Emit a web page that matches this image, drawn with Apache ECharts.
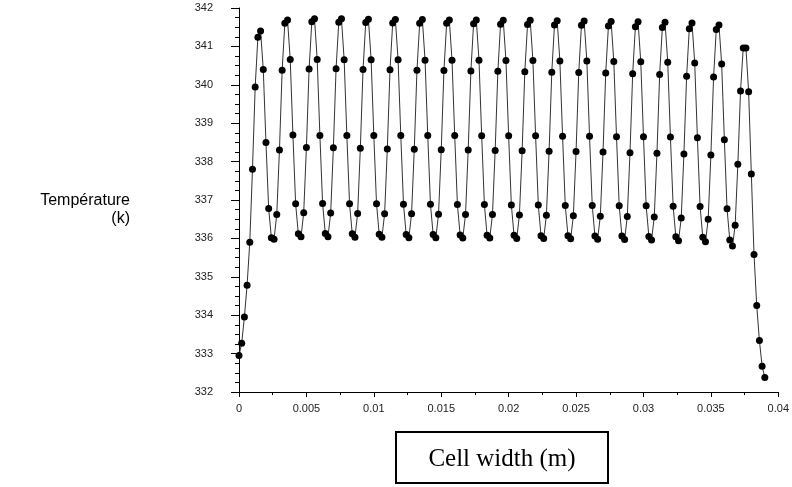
<!DOCTYPE html>
<html>
<head>
<meta charset="utf-8">
<title>Température vs Cell width</title>
<script src="https://cdn.jsdelivr.net/npm/echarts@6/dist/echarts.min.js"></script>
<style>
  html, body { margin: 0; padding: 0; background: #fff; }
  #chart { width: 792px; height: 487px; }
</style>
</head>
<body>
<div id="chart"></div>
<script>
// mesh spacing along the cell (m)
const cellStep = 0.0002

// temperature (K) at each mesh point
const tempStart = [332.95, 333.27, 333.95, 334.78, 335.90, 337.80, 339.94, 341.24, 341.40, 340.40, 338.50, 336.78]
const tempMiddle = [
  336.02, 335.98, 336.62, 338.30, 340.38, 341.60, 341.69, 340.66, 338.69, 336.90,
  336.12, 336.04, 336.67, 338.37, 340.41, 341.64, 341.72, 340.66, 338.68, 336.91,
  336.13, 336.04, 336.66, 338.36, 340.42, 341.63, 341.72, 340.65, 338.68, 336.90,
  336.12, 336.03, 336.65, 338.35, 340.40, 341.62, 341.71, 340.65, 338.68, 336.90,
  336.11, 336.03, 336.64, 338.33, 340.39, 341.61, 341.70, 340.65, 338.68, 336.89,
  336.10, 336.02, 336.64, 338.32, 340.38, 341.60, 341.70, 340.64, 338.68, 336.89,
  336.10, 336.02, 336.63, 338.31, 340.37, 341.60, 341.69, 340.64, 338.68, 336.88,
  336.09, 336.01, 336.62, 338.30, 340.36, 341.59, 341.69, 340.64, 338.67, 336.88,
  336.08, 336.01, 336.62, 338.29, 340.35, 341.58, 341.68, 340.63, 338.67, 336.87,
  336.08, 336.00, 336.61, 338.28, 340.34, 341.57, 341.68, 340.63, 338.67, 336.87,
  336.07, 336.00, 336.60, 338.27, 340.33, 341.56, 341.67, 340.62, 338.66, 336.86,
  336.07, 335.99, 336.59, 338.26, 340.32, 341.55, 341.66, 340.62, 338.66, 336.86,
  336.06, 335.98, 336.58, 338.25, 340.31, 341.53, 341.65, 340.61, 338.65, 336.85,
  336.06, 335.97, 336.57, 338.23, 340.29, 341.51, 341.64, 340.60, 338.65, 336.85,
  336.05, 335.96, 336.56, 338.22, 340.27, 341.49, 341.63, 340.59, 338.64, 336.84,
  336.04, 335.94, 336.53, 338.20, 340.22, 341.46, 341.61, 340.57, 338.62, 336.83,
  336.03, 335.91, 336.50, 338.17, 340.20, 341.44, 341.56, 340.54, 338.57, 336.77,
  335.96, 335.80, 336.34, 337.93, 339.84, 340.96, 340.96, 339.82, 337.68, 335.58
]
const tempEnd = [334.25, 333.34, 332.67, 332.38]

// axis ticks
const xTicks = [0, 0.005, 0.01, 0.015, 0.02, 0.025, 0.03, 0.035, 0.04]
const yTicks = [332, 333, 334, 335, 336, 337, 338, 339, 340, 341, 342]

const temperature = tempStart.concat(tempMiddle, tempEnd)
const points = temperature.map((t, i) => [+(i * cellStep).toFixed(4), t])

const chart = echarts.init(document.getElementById('chart'))

const tickFont = { color: '#222', fontSize: 11, fontFamily: 'Liberation Sans, Arial, sans-serif' }
const titleFont = '16px "Liberation Sans", Arial, sans-serif'

chart.setOption({
  animation: false,
  backgroundColor: '#fff',
  grid: { left: 239, right: 13, top: 8, bottom: 95, containLabel: false },
  xAxis: {
    type: 'value',
    min: xTicks[0],
    max: xTicks[xTicks.length - 1],
    interval: 0.005,
    axisLine: { lineStyle: { color: '#000', width: 1 } },
    axisTick: { show: true, length: 5, lineStyle: { color: '#000' } },
    minorTick: { show: true, splitNumber: 2, length: 3, lineStyle: { color: '#000' } },
    splitLine: { show: false },
    axisLabel: Object.assign({ margin: 11, formatter: v => String(v) }, tickFont)
  },
  yAxis: {
    type: 'value',
    min: yTicks[0],
    max: yTicks[yTicks.length - 1],
    interval: 1,
    axisLine: { show: true, lineStyle: { color: '#000', width: 1 } },
    axisTick: { show: true, length: 8, lineStyle: { color: '#000' } },
    minorTick: { show: true, splitNumber: 4, length: 4, lineStyle: { color: '#000' } },
    splitLine: { show: false },
    axisLabel: Object.assign({ margin: 26 }, tickFont)
  },
  series: [{
    type: 'line',
    data: points,
    symbol: 'circle',
    symbolSize: 7,
    showAllSymbol: true,
    itemStyle: { color: '#000' },
    lineStyle: { color: '#333', width: 1 }
  }],
  graphic: [
    // y axis title, right aligned on two lines
    {
      type: 'text',
      x: 130,
      y: 193,
      style: { text: 'Température', align: 'right', fill: '#000', font: titleFont }
    },
    {
      type: 'text',
      x: 130,
      y: 211,
      style: { text: '(k)', align: 'right', fill: '#000', font: titleFont }
    },
    // boxed x axis title
    {
      type: 'group',
      left: 395,
      top: 431,
      children: [
        {
          type: 'rect',
          shape: { x: 0, y: 0, width: 212, height: 51 },
          style: { fill: '#fff', stroke: '#000', lineWidth: 2 }
        },
        {
          type: 'text',
          x: 106,
          y: 27,
          style: {
            text: 'Cell width (m)',
            align: 'center',
            verticalAlign: 'middle',
            fill: '#000',
            font: '25px "Liberation Serif", "Times New Roman", serif'
          }
        }
      ]
    }
  ]
})
</script>
</body>
</html>
